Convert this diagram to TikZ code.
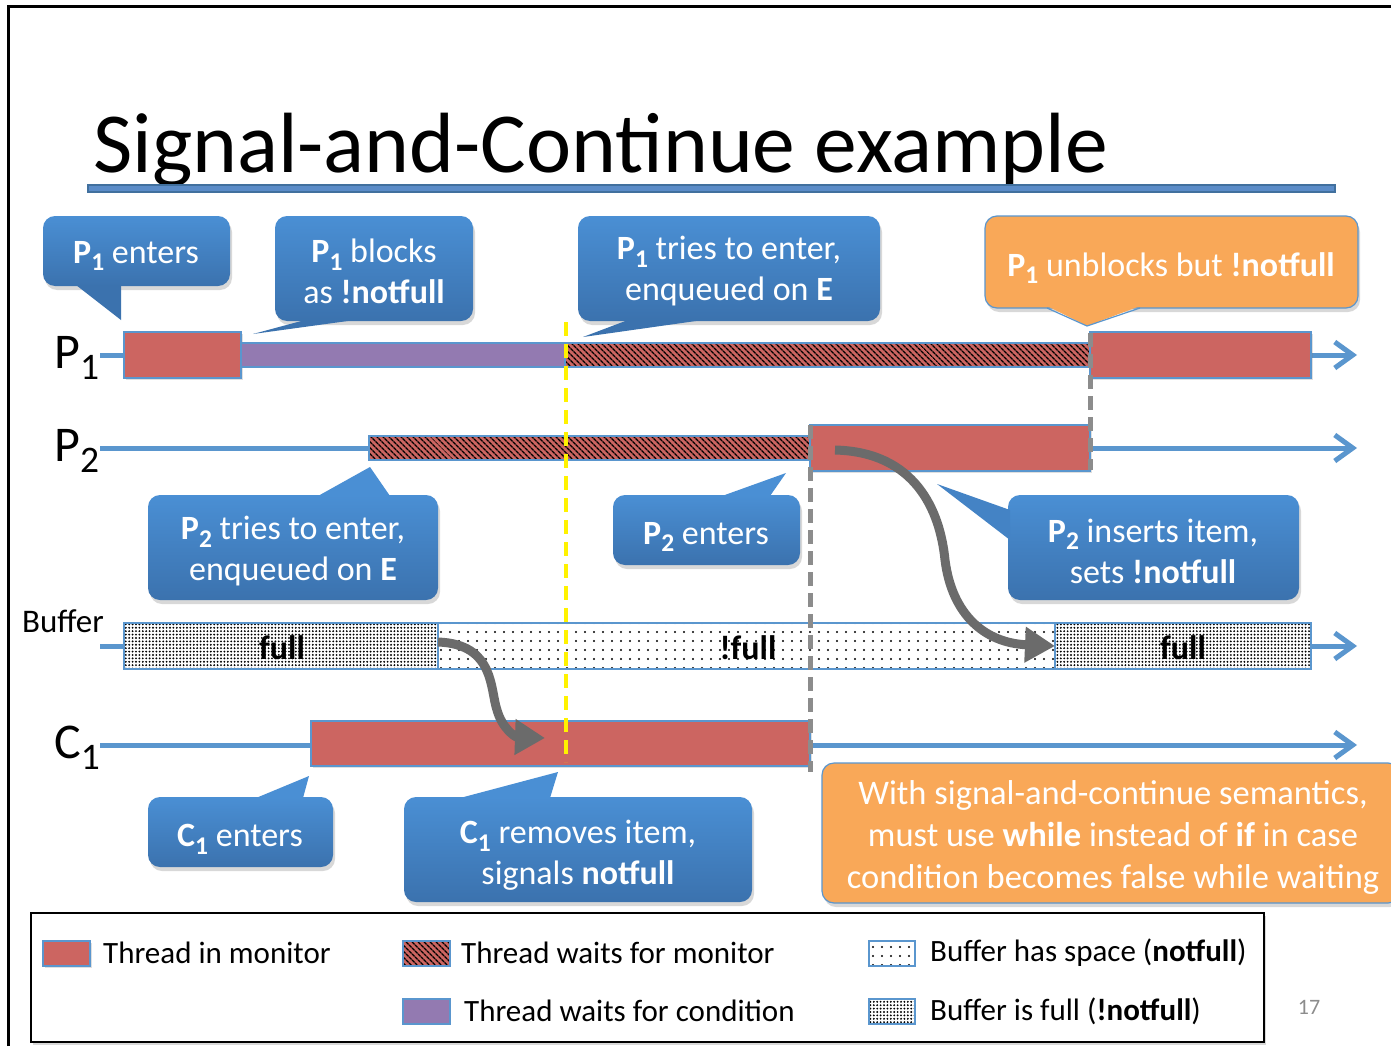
\documentclass[tikz,border=0pt]{standalone}
\usepackage{fontspec}
\setmainfont{Carlito}
\usepackage{graphicx}
\usetikzlibrary{arrows.meta,patterns.meta,shadows}
\definecolor{tl}{HTML}{5A96CE}
\definecolor{redbar}{HTML}{CC6561}
\definecolor{purp}{HTML}{937AB1}
\definecolor{ctop}{HTML}{4A8FD4}
\definecolor{cbot}{HTML}{3B72AE}
\definecolor{cmid}{HTML}{4483C5}
\definecolor{orng}{HTML}{F9A858}
\definecolor{garrow}{HTML}{6B6B6B}
\definecolor{gdash}{HTML}{8C8C8C}
\definecolor{ttlfill}{HTML}{5B8CC8}
\definecolor{ttldraw}{HTML}{41709E}
\newcommand{\Sb}[2]{#1\raisebox{-0.23em}{\scalebox{0.75}{#2}}}
\tikzset{
  tarrow/.style={line width=5pt, draw=tl, -{Straight Barb[length=18pt,width=26pt]}},
  redbox/.style={fill=redbar, draw=tl, line width=1.2pt, drop shadow={shadow xshift=1.5pt,shadow yshift=-2pt,opacity=0.25}},
  purpbar/.style={fill=purp, draw=tl, line width=1.2pt},
  hatchbar/.style={preaction={fill=redbar}, pattern={Lines[angle=-45,distance=4pt,line width=1.5pt]}, pattern color=black, draw=tl, line width=1.2pt},
  fullbar/.style={preaction={fill=white}, pattern={Dots[distance=3.4pt,radius=1.05pt]}, pattern color=black, draw=tl, line width=1.2pt},
  spacebar/.style={preaction={fill=white}, pattern={Dots[distance=9pt,radius=1.1pt]}, pattern color=black, draw=tl, line width=1.2pt},
  bluecall/.style={rounded corners=12pt, top color=ctop, bottom color=cbot, drop shadow={shadow xshift=2pt,shadow yshift=-4pt,opacity=0.3}},
  orangecall/.style={rounded corners=12pt, fill=orng, draw=tl, line width=1.2pt, drop shadow={shadow xshift=2pt,shadow yshift=-4pt,opacity=0.3}},
  ctext/.style={text=white, font=\fontsize{34}{41}\selectfont, align=center, inner sep=0pt},
  bufftext/.style={font=\fontsize{34}{34}\selectfont\bfseries, inner sep=0pt},
  lbl/.style={font=\fontsize{50}{50}\selectfont, anchor=base west, inner sep=0pt},
  legtext/.style={font=\fontsize{31}{31}\selectfont, anchor=west, inner sep=0pt},
  ydash/.style={draw=yellow, line width=4pt, dash pattern=on 14pt off 8pt},
  gdashed/.style={draw=gdash, line width=5pt, dash pattern=on 14pt off 7pt},
  curvearrow/.style={draw=garrow, line width=9pt, -{Triangle[length=30pt,width=34pt]}},
}
\begin{document}
\begin{tikzpicture}[x=1pt,y=-1pt]
\useasboundingbox (0,0) rectangle (1391,1046);
\fill[white] (0,0) rectangle (1391,1046);
% frame
\draw[black, line width=3pt] (8,1046) -- (8,7) -- (1391,7);
% title
\node[font=\fontsize{85.5}{100}\selectfont, anchor=base west, inner sep=0pt] (title) at (93,172) {Signal-and-Continue example};
\path[fill=ttlfill, draw=ttldraw, line width=1.5pt] (88,185) rectangle (1335,192);

% timeline coordinates
\coordinate (P1s) at (100,355); \coordinate (P1e) at (1357,355);
\coordinate (P2s) at (100,448); \coordinate (P2e) at (1357,448);
\coordinate (Bs) at (100,646);  \coordinate (Be) at (1357,646);
\coordinate (C1s) at (100,745); \coordinate (C1e) at (1357,745);
\draw[tarrow] (P1s) -- (P1e);
\draw[tarrow] (P2s) -- (P2e);
\draw[tarrow] (Bs) -- (Be);
\draw[tarrow] (C1s) -- (C1e);

% labels
\node[lbl] (lP1) at (54,368) {\Sb{P}{1}};
\node[lbl] (lP2) at (54,461) {\Sb{P}{2}};
\node[lbl] (lC1) at (54,758) {\Sb{C}{1}};
\node[font=\fontsize{33}{33}\selectfont, anchor=west, inner sep=0pt] (lB) at (22,621) {Buffer};

% P1 bars
\path[redbox] (124,332) rectangle (241,378);
\path[purpbar] (241,343) rectangle (565,367);
\path[hatchbar] (565,343) rectangle (1090,367);
\path[redbox] (1090,332) rectangle (1311,378);
% P2 bars
\path[hatchbar] (369,436) rectangle (810,460);
\path[redbox] (810,425) rectangle (1090,471);
% Buffer bars
\path[fullbar] (124,623) rectangle (438,669);
\path[spacebar] (438,623) rectangle (1055,669);
\path[fullbar] (1055,623) rectangle (1311,669);
\node[bufftext] (bf1) at (282,648) {full};
\node[bufftext] (bf2) at (748,648) {!full};
\node[bufftext] (bf3) at (1183,648) {full};
% C1 bar
\path[redbox] (311,721) rectangle (810,766);

% dashed verticals
\coordinate (y1) at (566,322); \coordinate (y2) at (566,762);
\draw[ydash] (y1) -- (y2);
\coordinate (g1) at (810,425); \coordinate (g2) at (810,772);
\draw[gdashed] (g1) -- (g2);
\coordinate (g3) at (1090,333); \coordinate (g4) at (1090,470);
\draw[gdashed] (g3) -- (g4);

% curved arrows
\coordinate (a1s) at (438,642); \coordinate (a1e) at (545,738);
\draw[curvearrow] (a1s) .. controls (495,644) and (490,690) .. (497,710) .. controls (502,728) and (515,737) .. (a1e);
\coordinate (a2s) at (835,450); \coordinate (a2e) at (1055,646);
\draw[curvearrow] (a2s) .. controls (915,452) and (940,510) .. (945,560) .. controls (952,615) and (985,643) .. (a2e);

% callouts
\path[bluecall] (43,216) rectangle (230,286);
\fill[cbot] (76,285) -- (121,320) -- (121,285) -- cycle;
\node[ctext] (c1t) at (136,256) {\textbf{\Sb{P}{1}} enters};

\path[bluecall] (275,216) rectangle (473,321);
\fill[cbot] (305,320) -- (253,334) -- (355,320) -- cycle;
\node[ctext] (c2t) at (374,271) {\textbf{\Sb{P}{1}} blocks\\as \textbf{!notfull}};

\path[bluecall] (578,216) rectangle (880,321);
\fill[cbot] (628,320) -- (583,337) -- (703,320) -- cycle;
\node[ctext] (c3t) at (729,271) {\textbf{\Sb{P}{1}} tries to enter,\\enqueued on \textbf{E}};

\path[orangecall] (985,216) rectangle (1358,308);
\fill[orng] (1047,306) -- (1087,326) -- (1140,306) -- cycle;
\draw[tl, line width=1.2pt] (1047,308) -- (1087,326) -- (1140,308);
\node[ctext] (c4t) at (1171,268) {\textbf{\Sb{P}{1}} unblocks but \textbf{!notfull}};

\path[bluecall] (148,495) rectangle (438,600);
\fill[ctop] (318,496) -- (370,467) -- (390,496) -- cycle;
\node[ctext] (c5t) at (293,551) {\textbf{\Sb{P}{2}} tries to enter,\\enqueued on \textbf{E}};

\path[bluecall] (613,495) rectangle (800,565);
\fill[ctop] (722,496) -- (786,473) -- (770,496) -- cycle;
\node[ctext] (c6t) at (706,537) {\textbf{\Sb{P}{2}} enters};

\path[bluecall] (1008,495) rectangle (1299,600);
\fill[cmid] (1010,510) -- (937,484) -- (1010,540) -- cycle;
\node[ctext] (c7t) at (1153,551) {\textbf{\Sb{P}{2}} inserts item,\\sets \textbf{!notfull}};

\path[bluecall] (148,797) rectangle (333,867);
\fill[ctop] (256,798) -- (309,776) -- (303,798) -- cycle;
\node[ctext] (c8t) at (240,839) {\textbf{\Sb{C}{1}} enters};

\path[bluecall] (404,797) rectangle (752,902);
\fill[ctop] (460,798) -- (558,772) -- (550,798) -- cycle;
\node[ctext] (c9t) at (578,855) {\textbf{\Sb{C}{1}} removes item,\\signals \textbf{notfull}};

\path[orangecall] (822,763) rectangle (1400,903);
\node[ctext, font=\fontsize{34.5}{42}\selectfont] (c10t) at (1113,837) {With signal-and-continue semantics,\\must use \textbf{while} instead of \textbf{if} in case\\condition becomes false while waiting};

% legend
\path[draw=black, line width=1.5pt, fill=white, drop shadow={shadow xshift=2pt,shadow yshift=-3pt,opacity=0.3}] (31,913) rectangle (1264,1042);
\path[redbox] (43,941) rectangle (90,966);
\node[legtext] (lg1) at (103,953) {Thread in monitor};
\path[hatchbar] (403,941) rectangle (450,966);
\node[legtext] (lg2) at (461,953) {Thread waits for monitor};
\path[purpbar] (403,999) rectangle (450,1024);
\node[legtext] (lg3) at (464,1011) {Thread waits for condition};
\path[spacebar] (869,941) rectangle (915,966);
\node[legtext] (lg4) at (930,953) {Buffer has space (\textbf{notfull})};
\path[fullbar] (869,999) rectangle (915,1024);
\node[legtext] (lg5) at (930,1011) {Buffer is full (\textbf{!notfull})};
\node[font=\fontsize{22}{22}\selectfont, text=gdash, inner sep=0pt] (pg) at (1309,1007) {17};
\end{tikzpicture}
\end{document}
